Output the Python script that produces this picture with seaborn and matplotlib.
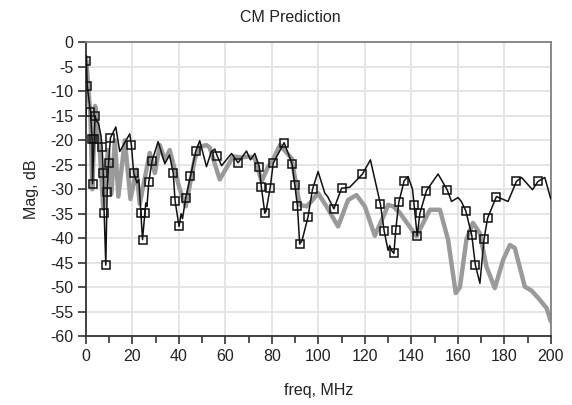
import numpy as np
import pandas as pd
import matplotlib as mpl
mpl.use("Agg")
import matplotlib.pyplot as plt
import seaborn as sns
from matplotlib.ticker import MultipleLocator

meas_f = [0.0, 0.3, 0.6, 2.0, 2.7, 2.9, 3.6, 4.0, 4.5, 5.4, 6.5, 7.0, 7.5, 7.9, 8.6,
          9.0, 9.2, 9.8, 10.6, 12.9, 14.6, 18.9, 19.6, 20.6, 22.0, 22.8, 23.7, 24.4,
          25.4, 25.8, 26.3, 27.1, 28.5, 31.1, 34.0, 36.0, 37.6, 38.4, 40.1, 41.0,
          41.6, 43.0, 45.0, 47.3, 49.0, 51.9, 54.0, 55.5, 56.5, 58.4, 62.7, 65.5,
          69.1, 70.8, 72.7, 74.6, 75.5, 77.0, 77.5, 79.3, 80.6, 85.3, 88.7, 89.9,
          91.0, 92.0, 93.0, 95.6, 97.5, 99.9, 102.8, 104.0, 106.7, 110.0, 113.5,
          119.0, 122.4, 126.7, 128.3, 130.0, 130.7, 131.5, 132.5, 133.3, 134.6,
          136.9, 138.6, 140.5, 141.2, 142.5, 143.7, 146.5, 151.5, 155.4, 157.3,
          160.1, 161.5, 163.4, 166.0, 167.5, 169.5, 171.3, 172.8, 176.6, 181.6,
          185.2, 187.4, 192.1, 194.5, 197.4, 200.0]
meas_db = [-2.6, -3.8, -8.9, -14.2, -19.7, -28.9, -19.7, -15.0, -16.0, -16.5, -19.0,
           -21.3, -26.7, -34.9, -45.5, -35.0, -30.5, -24.6, -19.5, -17.3, -22.3,
           -18.7, -21.0, -26.7, -28.7, -28.0, -34.9, -40.3, -34.9, -32.8, -33.5,
           -28.5, -24.2, -20.3, -24.8, -23.0, -26.7, -32.4, -37.6, -35.0, -36.0,
           -31.7, -27.4, -22.2, -20.1, -25.4, -22.3, -21.8, -23.2, -25.2, -22.7,
           -24.6, -22.2, -24.0, -22.7, -25.4, -29.6, -34.9, -34.5, -29.7, -24.7,
           -20.5, -24.8, -29.1, -33.4, -41.2, -40.5, -35.6, -30.0, -26.4, -30.8,
           -31.5, -34.0, -29.8, -29.6, -26.9, -24.0, -33.0, -38.5, -42.5, -41.5,
           -42.5, -43.1, -38.3, -32.7, -28.3, -27.4, -30.0, -33.2, -39.5, -34.9,
           -30.3, -26.9, -30.1, -32.5, -31.7, -32.5, -34.4, -39.4, -45.4, -49.2,
           -40.1, -35.9, -31.5, -32.5, -28.4, -27.6, -30.1, -28.4, -27.6, -32.0]

# square markers on the black trace
mark_f = [0.3, 0.6, 2.0, 2.7, 2.9, 3.6, 4.0, 7.0, 7.5, 7.9, 8.6, 9.2, 9.8, 10.6,
          19.6, 20.6, 23.7, 24.4, 25.4, 27.1, 28.5, 37.6, 38.4, 40.1, 43.0, 45.0,
          47.3, 56.5, 65.5, 74.6, 75.5, 77.0, 79.3, 80.6, 85.3, 88.7, 89.9, 91.0,
          92.0, 95.6, 97.5, 106.7, 110.0, 119.0, 126.7, 128.3, 132.5, 133.3, 134.6,
          136.9, 141.2, 142.5, 143.7, 146.5, 155.4, 163.4, 166.0, 167.5, 171.3,
          172.8, 176.6, 185.2, 194.5]
mark_db = [-3.8, -8.9, -14.2, -19.7, -28.9, -19.7, -15.0, -21.3, -26.7, -34.9,
           -45.5, -30.5, -24.6, -19.5, -21.0, -26.7, -34.9, -40.3, -34.9, -28.5,
           -24.2, -26.7, -32.4, -37.6, -31.7, -27.4, -22.2, -23.2, -24.6, -25.4,
           -29.6, -34.9, -29.7, -24.7, -20.5, -24.8, -29.1, -33.4, -41.2, -35.6,
           -30.0, -34.0, -29.8, -26.9, -33.0, -38.5, -43.1, -38.3, -32.7, -28.3,
           -33.2, -39.5, -34.9, -30.3, -30.1, -34.4, -39.4, -45.4, -40.1, -35.9,
           -31.5, -28.4, -28.4]

# gray trace (prediction)
pred_f = [0.0, 0.3, 1.0, 2.0, 2.8, 3.5, 4.0, 5.0, 6.0, 7.5, 9.5, 11.0, 12.5, 14.0,
          16.8, 19.2, 21.8, 23.2, 27.5, 29.7, 31.8, 34.0, 36.1, 40.4, 43.0, 46.9,
          49.0, 51.9, 53.3, 57.6, 63.4, 67.0, 70.0, 72.7, 75.6, 78.4, 80.0, 83.5,
          88.5, 92.0, 94.9, 97.0, 99.9, 103.5, 108.5, 112.8, 116.4, 120.0, 124.3,
          128.6, 130.0, 132.2, 135.0, 142.2, 148.0, 152.3, 155.8, 159.1, 160.9,
          163.7, 166.5, 169.5, 172.3, 175.9, 179.5, 182.4, 184.5, 188.8, 191.7,
          195.3, 198.2, 200.0]
pred_db = [-3.0, -4.0, -9.0, -15.0, -30.0, -20.0, -13.0, -17.0, -22.0, -34.0,
           -22.0, -31.0, -20.0, -31.5, -20.0, -32.0, -26.0, -33.0, -22.6, -26.7,
           -21.0, -24.0, -22.0, -30.0, -33.5, -23.7, -21.3, -21.0, -21.5, -28.0,
           -23.3, -23.5, -23.3, -23.7, -28.4, -25.4, -24.5, -21.0, -23.7, -33.2,
           -33.5, -32.5, -30.8, -33.5, -37.6, -32.2, -31.2, -33.5, -39.5, -34.9,
           -33.2, -33.5, -34.8, -39.6, -34.2, -34.2, -40.3, -51.2, -50.0, -40.3,
           -36.9, -39.0, -45.8, -50.2, -44.4, -41.4, -42.0, -49.9, -50.7, -52.6,
           -54.3, -57.0]

sns.set_style("white")
plt.rcParams['font.family'] = ['Liberation Sans', 'DejaVu Sans']
plt.rcParams['axes.unicode_minus'] = False

fig = plt.figure(figsize=(5.72, 4.05), dpi=100)
ax = fig.add_axes([0.150, 0.170, 0.813, 0.7256])

sns.lineplot(x=pred_f, y=pred_db, sort=False, estimator=None, color='#9a9a9a',
             linewidth=3.2, ax=ax, zorder=2)
sns.lineplot(x=meas_f, y=meas_db, sort=False, estimator=None, color='#111111',
             linewidth=1.1, ax=ax, zorder=3)
ax.plot(mark_f, mark_db, linestyle='none', marker='s', markersize=5.5,
        markerfacecolor='none', markeredgecolor='#111111', markeredgewidth=1.1, zorder=4)

ax.set_xlim(0, 200)
ax.set_ylim(-60, 0)
ax.xaxis.set_major_locator(MultipleLocator(20))
ax.xaxis.set_minor_locator(MultipleLocator(10))
ax.yaxis.set_major_locator(MultipleLocator(5))
ax.grid(True, which='major', color='#e3e3e3', linewidth=1.3)
ax.set_axisbelow(True)

for side in ['left', 'bottom']:
    ax.spines[side].set_color('#333333')
    ax.spines[side].set_linewidth(1.3)
for side in ['top', 'right']:
    ax.spines[side].set_color('#808080')
    ax.spines[side].set_linewidth(1.3)

ax.tick_params(axis='both', which='major', direction='out', length=6, width=1.2,
               color='#333333', labelsize=11.5, labelcolor='#222222', pad=3)
ax.tick_params(axis='x', which='minor', direction='out', length=5, width=1.2,
               color='#333333')
ax.tick_params(bottom=True, left=True, which='both')
ax.tick_params(axis='y', which='minor', left=False)

ax.set_xlabel("freq, MHz", fontsize=11.5, color='#222222', labelpad=14)
ax.set_ylabel("Mag, dB", fontsize=11.5, color='#222222', labelpad=8)
fig.text(290 / 572, 1 - 17 / 405, "CM Prediction", ha='center', va='center',
         fontsize=11.5, color='#222222')

fig.savefig("out.png", dpi=100)
